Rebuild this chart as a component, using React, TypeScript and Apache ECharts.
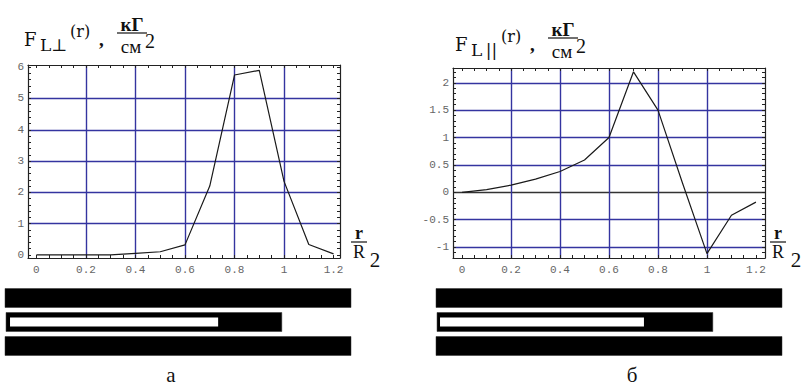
import React, { useEffect, useRef } from "react";
import * as echarts from "echarts";

// ---- data ----
const rValues = [0, 0.1, 0.2, 0.3, 0.4, 0.5, 0.6, 0.7, 0.8, 0.9, 1.0, 1.1, 1.2];
const fPerp = [0, 0, 0, 0, 0.05, 0.1, 0.32, 2.2, 5.75, 5.9, 2.35, 0.33, 0.03];
const fPar = [0, 0.05, 0.13, 0.24, 0.38, 0.59, 1.0, 2.2, 1.5, 0.17, -1.12, -0.42, -0.18];

const xTickLabels = [0, 0.2, 0.4, 0.6, 0.8, 1, 1.2];
const yTickLabelsA = [0, 1, 2, 3, 4, 5, 6];
const yTickLabelsB = [-1, -0.5, 0, 0.5, 1, 1.5, 2];
// grid-line extents (first, last, step)
const vGrid = { min: 0.2, max: 1.0, step: 0.2 };
const hGridA = { min: 1, max: 5, step: 1 };
const hGridB = { min: -1, max: 2, step: 0.5 };

// schematic bars (fraction of full length): outer black, inner white
const barRows = [0, 1, 2];
const outerStartA = [0, 0.003, 0];
const outerEndA = [1, 0.8, 1];
const innerStartA = [null, 0.0145, null];
const innerEndA = [null, 0.616, null];
const outerStartB = [0, 0.003, 0];
const outerEndB = [1, 0.8, 1];
const innerStartB = [null, 0.0116, null];
const innerEndB = [null, 0.601, null];

const range = (a: number, b: number, s: number) => {
  const out: number[] = [];
  const n = Math.round((b - a) / s);
  for (let i = 0; i <= n; i++) out.push(+(a + i * s).toFixed(4));
  return out;
};
const xMinorTicks = range(0, 1.2, 0.05);
const yMinorTicksA = range(0, 6, 0.2);
const yMinorTicksB = range(-1.2, 2.2, 0.1);

const NAVY = "#3434a0";
const FRAME = "#222";
const MONO = "Liberation Mono";
const SERIF = "Liberation Serif";
const SLAB = "DejaVu Serif";

// plot frames
const frameA = { left: 28, top: 65, width: 312, height: 193, xMin: -0.034, xMax: 1.226, yMin: -0.1, yMax: 6.07 };
const frameB = { left: 453, top: 68, width: 312, height: 190, xMin: -0.037, xMax: 1.237, yMin: -1.2, yMax: 2.27 };

function frameAxis(
  kind: "x" | "y",
  gridIndex: number,
  position: string,
  min: number,
  max: number,
  ticks: number[],
  labels: number[] | null
) {
  return {
    type: "value",
    gridIndex,
    position,
    min,
    max,
    z: 5,
    axisLine: { show: true, onZero: false, lineStyle: { color: FRAME, width: 1.2 } },
    axisTick: {
      show: true,
      inside: true,
      length: 3,
      customValues: ticks,
      lineStyle: { color: FRAME, width: 1 },
    },
    splitLine: { show: false },
    axisLabel: labels
      ? {
          show: true,
          customValues: labels,
          fontFamily: MONO,
          fontSize: 11,
          color: "#666",
          margin: kind === "x" ? 6 : 4,
          formatter: (v: number) => String(v),
        }
      : { show: false },
  };
}

// grid rectangles that span exactly the grid-line values inside a frame
function vLineGrid(f: any) {
  const sx = f.width / (f.xMax - f.xMin);
  return {
    left: f.left + (vGrid.min - f.xMin) * sx,
    width: (vGrid.max - vGrid.min) * sx,
    top: f.top,
    height: f.height,
  };
}
function hLineGrid(f: any, g: any) {
  const sy = f.height / (f.yMax - f.yMin);
  return {
    left: f.left,
    width: f.width,
    top: f.top + (f.yMax - g.max) * sy,
    height: (g.max - g.min) * sy,
  };
}

const lineAxis = (gridIndex: number, g: any, colors: string | string[]) => ({
  type: "value",
  gridIndex,
  min: g.min,
  max: g.max,
  interval: g.step,
  z: 0,
  axisLine: { show: false },
  axisTick: { show: false },
  axisLabel: { show: false },
  splitLine: { show: true, lineStyle: { color: colors, width: 1.4, type: "solid" } },
});
const hiddenAxis = (gridIndex: number) => ({ type: "value", gridIndex, min: 0, max: 1, show: false });

function barData(os: (number | null)[], oe: (number | null)[], is: (number | null)[], ie: (number | null)[]) {
  const out: any[] = [];
  barRows.forEach((r, i) => {
    if (os[i] != null) out.push([r, os[i], oe[i], 0]);
  });
  barRows.forEach((r, i) => {
    if (is[i] != null) out.push([r, is[i], ie[i], 1]);
  });
  return out;
}

const renderBar = (_p: any, api: any) => {
  const row = api.value(0);
  const s = api.value(1);
  const e = api.value(2);
  const kind = api.value(3);
  const p0 = api.coord([s, row]);
  const p1 = api.coord([e, row]);
  const h = kind === 0 ? 19 : 9;
  return {
    type: "rect",
    shape: { x: p0[0], y: p0[1] - h / 2, width: p1[0] - p0[0], height: h },
    style: { fill: kind === 0 ? "#000" : "#fff", stroke: kind === 0 ? "#333" : null, lineWidth: kind === 0 ? 0.5 : 0 },
  };
};

const txt = (
  text: string,
  x: number,
  y: number,
  family: string,
  size: number,
  weight = "normal",
  align = "left"
) => ({
  type: "text",
  x,
  y,
  z: 100,
  style: {
    text,
    fontFamily: family,
    fontSize: size,
    fontWeight: weight,
    fill: "#111",
    align,
    verticalAlign: "middle",
  },
});

function titleGraphics(dx: number, dy: number, sub: string) {
  return [
    txt("F", 24 + dx, 39 + dy, SLAB, 18),
    txt(sub, 40 + dx, 45 + dy, SLAB, 17),
    txt("(r)", 70 + dx, 31 + dy, SLAB, 16),
    txt(",", 99 + dx, 39 + dy, SERIF, 19, "bold"),
    txt("кГ", 132 + dx, 24 + dy, SERIF, 19, "bold", "center"),
    {
      type: "line",
      z: 100,
      shape: { x1: 117 + dx, y1: 33 + dy, x2: 147 + dx, y2: 33 + dy },
      style: { stroke: "#111", lineWidth: 1.2 },
    },
    txt("см", 131 + dx, 46 + dy, SERIF, 19, "normal", "center"),
    txt("2", 145 + dx, 41 + dy, SERIF, 20),
  ];
}

function rR2Graphics(cx: number, x2: number) {
  return [
    txt("r", cx, 233, SERIF, 18, "bold", "center"),
    { type: "line", z: 100, shape: { x1: cx - 8, y1: 242, x2: cx + 8, y2: 242 }, style: { stroke: "#111", lineWidth: 1.2 } },
    txt("R", cx, 252, SERIF, 18, "normal", "center"),
    txt("2", x2, 260, SERIF, 21, "normal", "center"),
  ];
}

export default function App() {
  const ref = useRef<HTMLDivElement>(null);
  useEffect(() => {
    if (!ref.current) return;
    const chart = echarts.init(ref.current, null, { renderer: "svg" });
    const g = (r: any) => ({ ...r, outerBoundsMode: "none", containLabel: false });
    const zeroColorsB = [NAVY, NAVY, "#333", NAVY, NAVY, NAVY, NAVY];
    const option: any = {
      animation: false,
      backgroundColor: "#fff",
      grid: [
        g({ left: frameA.left, top: frameA.top, width: frameA.width, height: frameA.height }), // 0
        g({ left: frameB.left, top: frameB.top, width: frameB.width, height: frameB.height }), // 1
        g({ left: 5, top: 286, width: 346, height: 72 }), // 2
        g({ left: 436, top: 286, width: 346, height: 72 }), // 3
        g(vLineGrid(frameA)), // 4
        g(hLineGrid(frameA, hGridA)), // 5
        g(vLineGrid(frameB)), // 6
        g(hLineGrid(frameB, hGridB)), // 7
      ],
      xAxis: [
        frameAxis("x", 0, "bottom", frameA.xMin, frameA.xMax, xMinorTicks, xTickLabels),
        frameAxis("x", 0, "top", frameA.xMin, frameA.xMax, xMinorTicks, null),
        frameAxis("x", 1, "bottom", frameB.xMin, frameB.xMax, xMinorTicks, xTickLabels),
        frameAxis("x", 1, "top", frameB.xMin, frameB.xMax, xMinorTicks, null),
        { type: "value", gridIndex: 2, min: 0, max: 1, show: false },
        { type: "value", gridIndex: 3, min: 0, max: 1, show: false },
        lineAxis(4, vGrid, NAVY), // 6
        hiddenAxis(5), // 7
        lineAxis(6, vGrid, NAVY), // 8
        hiddenAxis(7), // 9
      ],
      yAxis: [
        frameAxis("y", 0, "left", frameA.yMin, frameA.yMax, yMinorTicksA, yTickLabelsA),
        frameAxis("y", 0, "right", frameA.yMin, frameA.yMax, yMinorTicksA, null),
        frameAxis("y", 1, "left", frameB.yMin, frameB.yMax, yMinorTicksB, yTickLabelsB),
        frameAxis("y", 1, "right", frameB.yMin, frameB.yMax, yMinorTicksB, null),
        { type: "category", gridIndex: 2, data: barRows.map(String), inverse: true, show: false },
        { type: "category", gridIndex: 3, data: barRows.map(String), inverse: true, show: false },
        hiddenAxis(4), // 6
        lineAxis(5, hGridA, NAVY), // 7
        hiddenAxis(6), // 8
        lineAxis(7, hGridB, zeroColorsB), // 9
      ],
      series: [
        {
          type: "line",
          xAxisIndex: 0,
          yAxisIndex: 0,
          z: 10,
          data: rValues.map((r, i) => [r, fPerp[i]]),
          showSymbol: false,
          lineStyle: { color: "#1a1a1a", width: 1.2 },
        },
        {
          type: "line",
          xAxisIndex: 2,
          yAxisIndex: 2,
          z: 10,
          data: rValues.map((r, i) => [r, fPar[i]]),
          showSymbol: false,
          lineStyle: { color: "#1a1a1a", width: 1.2 },
        },
        {
          type: "custom",
          xAxisIndex: 4,
          yAxisIndex: 4,
          renderItem: renderBar,
          data: barData(outerStartA, outerEndA, innerStartA, innerEndA),
          silent: true,
        },
        {
          type: "custom",
          xAxisIndex: 5,
          yAxisIndex: 5,
          renderItem: renderBar,
          data: barData(outerStartB, outerEndB, innerStartB, innerEndB),
          silent: true,
        },
      ],
      graphic: [
        ...titleGraphics(0, 0, "L⊥"),
        ...titleGraphics(431, 5, "L\u2009||"),
        ...rR2Graphics(359, 375),
        ...rR2Graphics(778, 796),
        txt("а", 171, 375, SERIF, 21, "normal", "center"),
        txt("б", 632, 375, SERIF, 21, "normal", "center"),
      ],
    };
    chart.setOption(option);
    return () => chart.dispose();
  }, []);
  return <div ref={ref} style={{ width: 804, height: 390, position: "fixed", left: 0, top: 0 }} />;
}
